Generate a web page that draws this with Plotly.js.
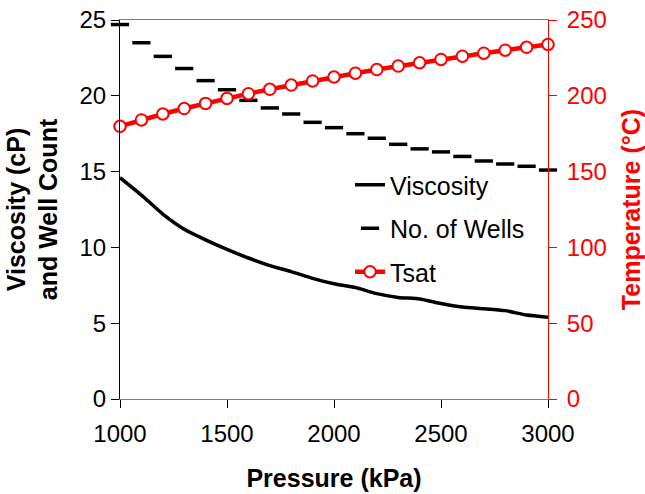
<!DOCTYPE html>
<html>
<head>
<meta charset="utf-8">
<script src="https://cdn.plot.ly/plotly-3.0.1.min.js"></script>
<style>html,body{margin:0;padding:0;background:#fff;}#chart{width:645px;height:494px;}</style>
</head>
<body>
<div id="chart"></div>
<script>
var pressure = [1000,1100,1200,1300,1400,1500,1600,1700,1800,1900,2000,2100,2200,2300,2400,2500,2600,2700,2800,2900,3000];
var viscosity = [14.6,13.45,12.2,11.2,10.5,9.87,9.3,8.8,8.4,7.96,7.6,7.35,6.95,6.7,6.6,6.3,6.07,5.96,5.83,5.54,5.4];
var wells = [24.7,23.5,22.6,21.8,21.0,20.4,19.7,19.2,18.8,18.25,17.9,17.5,17.2,16.8,16.5,16.3,16.0,15.7,15.5,15.35,15.1];
var tsat = [179.9,184.1,188.0,191.6,195.0,198.3,201.4,204.3,207.1,209.8,212.4,214.9,217.3,219.6,221.8,224.0,226.1,228.1,230.1,232.0,233.9];
var xTicks = [1000,1500,2000,2500,3000];
var yTicks = [0,5,10,15,20,25];
var y2Ticks = [0,50,100,150,200,250];

var FONT = 'Liberation Sans, Arial, sans-serif';
var traces = [
  {x: pressure, y: viscosity, name: 'Viscosity', type: 'scatter', mode: 'lines',
   line: {color: '#000', width: 3.5, shape: 'spline', smoothing: 0.6}, legendgroup: 'a', cliponaxis: false},
  {x: pressure, y: wells, name: 'No. of Wells', type: 'scatter', mode: 'markers',
   marker: {symbol: 'line-ew', size: 13, color: '#000', line: {color: '#000', width: 3.5}}, legendgroup: 'b', cliponaxis: false},
  {x: pressure, y: tsat, name: 'Tsat', type: 'scatter', mode: 'lines+markers', yaxis: 'y2',
   line: {color: '#ff0000', width: 4.5},
   marker: {symbol: 'circle', size: 11.5, color: '#fff', line: {color: '#ff0000', width: 2}}, legendgroup: 'c', cliponaxis: false}
];
var layout = {
  width: 645, height: 494,
  margin: {l: 120, r: 97, t: 20, b: 95},
  paper_bgcolor: '#fff', plot_bgcolor: '#fff',
  font: {family: FONT, size: 24, color: '#000'},
  showlegend: true,
  legend: {x: (350-120)/428, y: 1-(162-20)/379, xanchor: 'left', yanchor: 'top',
           bgcolor: 'rgba(0,0,0,0)', font: {family: FONT, size: 25, color: '#000'},
           traceorder: 'grouped', tracegroupgap: 8},
  xaxis: {range: [1000, 3000], tickvals: xTicks, ticktext: xTicks.map(String), ticks: 'outside', ticklen: 8,
          tickcolor: '#000', tickwidth: 1, showline: true, linecolor: '#808080', linewidth: 1, mirror: true,
          showgrid: false, zeroline: false, tickfont: {size: 24}, ticklabelstandoff: 5,
          title: {text: 'Pressure (kPa)', font: {size: 25, family: FONT, weight: 'bold'}, standoff: 23}},
  yaxis: {range: [0, 25], tickvals: yTicks, ticks: 'outside', ticklen: 8, tickcolor: '#000', tickwidth: 1,
          showline: true, linecolor: '#000', linewidth: 1, showgrid: false, zeroline: false,
          tickfont: {size: 24},
          title: {text: 'Viscosity (cP)<br>and Well Count', font: {size: 25, family: FONT, weight: 'bold'}, standoff: 14}},
  yaxis2: {range: [0, 250], tickvals: y2Ticks, overlaying: 'y', side: 'right', ticks: 'outside', ticklen: 8,
           tickcolor: '#ff0000', tickwidth: 1, showline: true, linecolor: '#ff0000', linewidth: 1,
           showgrid: false, zeroline: false, tickfont: {size: 24, color: '#ff0000'}, ticklabelstandoff: 5,
           title: {text: 'Temperature (°C)', font: {size: 25, family: FONT, weight: 'bold', color: '#ff0000'}, standoff: 17}}
};
Plotly.newPlot('chart', traces, layout, {displayModeBar: false, staticPlot: true});
</script>
</body>
</html>
